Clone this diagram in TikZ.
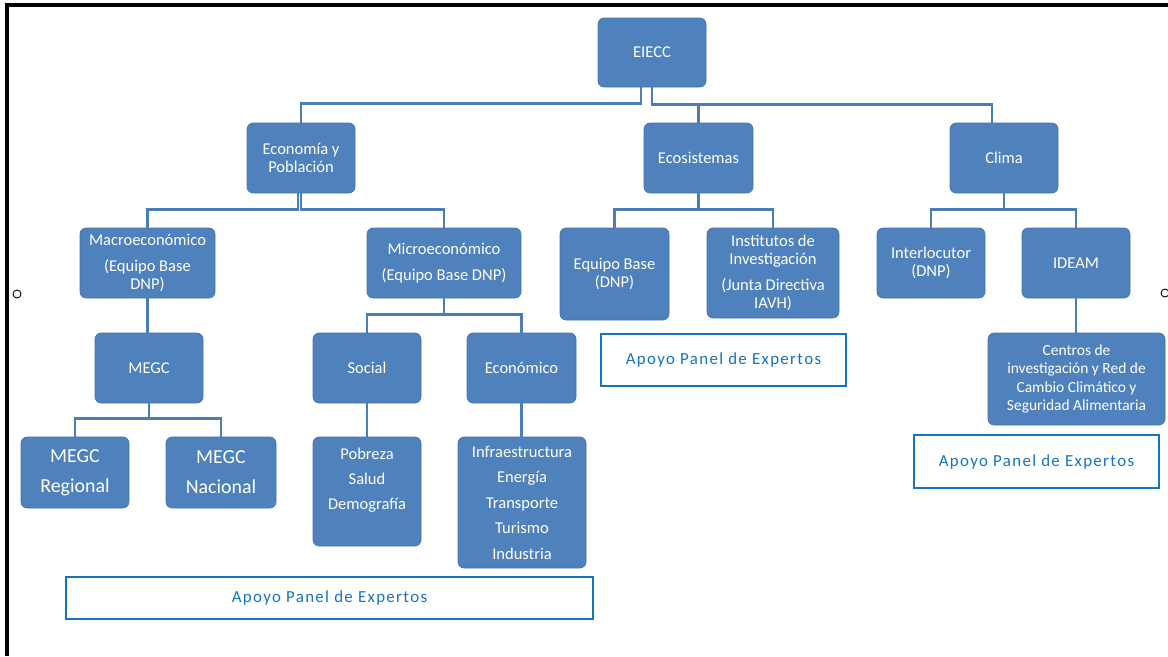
\documentclass[tikz,border=0pt]{standalone}
\usepackage{fontspec}
\setmainfont{Carlito}
\usetikzlibrary{positioning,calc}
\definecolor{boxblue}{RGB}{79,129,189}
\definecolor{lineblue}{RGB}{74,126,187}
\definecolor{panelblue}{RGB}{20,115,195}

\tikzset{
  unitbox/.style={draw=boxblue!90!black, line width=0.4pt, fill=boxblue, rounded corners=3.5pt,
                  text=white, align=center, inner sep=2pt, font=\fontsize{9.4}{10.5}\selectfont},
  panelbox/.style={draw=panelblue, line width=1.6pt, fill=white, text=panelblue, align=center,
                   font=\fontsize{9.6}{11}\selectfont\addfontfeature{LetterSpace=8}},
  linkline/.style={draw=lineblue, line width=1.5pt}
}

\begin{document}
\begin{tikzpicture}
  \useasboundingbox (0,0) rectangle (23.36,-13.12);
  \draw[line width=2pt] (0.14,-13.12) -- (0.14,-0.1) -- (23.36,-0.1);
  \draw[fill=white, line width=0.5pt] (0.34,-5.88) circle (0.08);
  \draw[fill=white, line width=0.5pt] (23.30,-5.86) circle (0.08);

  % top levels
  \node[unitbox, minimum width=2.16cm, minimum height=1.38cm] (eiecc) at (13.04,-1.05) {EIECC};
  \node[unitbox, minimum width=2.16cm, minimum height=1.40cm] (econ) at (6.02,-3.16) {Economía y\\Población};
  \node[unitbox, minimum width=2.18cm, minimum height=1.40cm] (ecosis) at (13.97,-3.16) {Ecosistemas};
  \node[unitbox, minimum width=2.16cm, minimum height=1.40cm] (clima) at (20.08,-3.16) {Clima};

  \node[unitbox, minimum width=2.70cm, minimum height=1.40cm] (macro) at (2.95,-5.26)
       {Macroeconómico\\[4.2pt](Equipo Base\\DNP)};
  \node[unitbox, minimum width=3.08cm, minimum height=1.40cm] (micro) at (8.88,-5.26)
       {Microeconómico\\[4.2pt](Equipo Base DNP)};
  \node[unitbox, minimum width=2.18cm, minimum height=1.84cm] (equipo) at (12.29,-5.48) {Equipo Base\\(DNP)};
  \node[unitbox, minimum width=2.64cm, minimum height=1.80cm] (instit) at (15.46,-5.46)
       {Institutos de\\Investigación\\[4.2pt](Junta Directiva\\IAVH)};
  \node[unitbox, minimum width=2.16cm, minimum height=1.40cm] (interl) at (18.62,-5.26) {Interlocutor\\(DNP)};
  \node[unitbox, minimum width=2.16cm, minimum height=1.40cm] (ideam) at (21.52,-5.26) {IDEAM};

  \node[unitbox, minimum width=2.16cm, minimum height=1.40cm] (megc) at (2.98,-7.36) {MEGC};
  \node[unitbox, minimum width=2.16cm, minimum height=1.40cm] (social) at (7.34,-7.36) {Social};
  \node[unitbox, minimum width=2.18cm, minimum height=1.40cm] (econo) at (10.43,-7.36) {Económico};
  \node[unitbox, minimum width=3.54cm, minimum height=1.84cm, font=\fontsize{8.8}{10.5}\selectfont]
       (centros) at (21.53,-7.58)
       {Centros de\\investigación y Red de\\Cambio Climático y\\Seguridad Alimentaria};

  % bottom level
  \node[unitbox, minimum width=2.16cm, minimum height=1.42cm, font=\fontsize{11.3}{17}\selectfont]
       (megcreg) at (1.50,-9.45) {MEGC\\Regional};
  \node[unitbox, minimum width=2.20cm, minimum height=1.42cm, font=\fontsize{11.3}{17}\selectfont]
       (megcnac) at (4.42,-9.45) {MEGC\\Nacional};
  \node[unitbox, minimum width=2.16cm, minimum height=2.18cm] (socdet) at (7.34,-9.83)
       {Pobreza\\[4pt]Salud\\[4pt]Demografía\\[4pt]\mbox{}};
  \node[unitbox, minimum width=2.56cm, minimum height=2.62cm] (econdet) at (10.44,-10.05)
       {Infraestructura\\[4pt]Energía\\[4pt]Transporte\\[4pt]Turismo\\[4pt]Industria};

  % expert panels
  \node[panelbox, minimum width=10.54cm, minimum height=0.84cm] (panelA) at (6.59,-11.96) {Apoyo Panel de Expertos};
  \node[panelbox, minimum width=4.90cm, minimum height=1.04cm] (panelB) at (14.47,-7.20) {Apoyo Panel de Expertos};
  \node[panelbox, minimum width=4.90cm, minimum height=1.06cm] (panelC) at (20.73,-9.23) {Apoyo Panel de Expertos};

  % connectors
  \draw[linkline] (econ.north) -- ++(0,0.38) -| ([xshift=-0.22cm]eiecc.south);
  \draw[linkline] (eiecc.south) -- ++(0,-0.34) -| ([xshift=-0.24cm]clima.north);
  \draw[linkline] (ecosis.north) -- ++(0,0.38);

  \draw[linkline] ([xshift=-0.06cm]econ.south) -- ++(0,-0.32) -| (macro.north);
  \draw[linkline] (econ.south) -- ++(0,-0.32) -| (micro.north);
  \draw[linkline] (ecosis.south) -- ++(0,-0.32) -| (equipo.north);
  \draw[linkline] (ecosis.south) -- ++(0,-0.32) -| (instit.north);
  \draw[linkline] (clima.south) -- ++(0,-0.32) -| (interl.north);
  \draw[linkline] (clima.south) -- ++(0,-0.32) -| (ideam.north);

  \draw[linkline] (macro.south) -- (macro.south |- megc.north);
  \draw[linkline] (micro.south) -- ++(0,-0.32) -| (social.north);
  \draw[linkline] (micro.south) -- ++(0,-0.32) -| (econo.north);
  \draw[linkline] (ideam.south) -- (ideam.south |- centros.north);

  \draw[linkline] (megc.south) -- ++(0,-0.30) -| (megcreg.north);
  \draw[linkline] (megc.south) -- ++(0,-0.30) -| (megcnac.north);
  \draw[linkline] (social.south) -- (socdet.north);
  \draw[linkline] (econo.south) -- (econo.south |- econdet.north);
\end{tikzpicture}
\end{document}
